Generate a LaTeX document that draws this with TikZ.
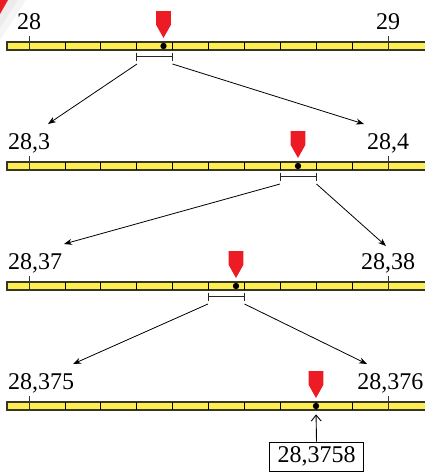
\documentclass[tikz,border=0pt]{standalone}
\usepackage{fontspec}
\setmainfont{Liberation Serif}
\usetikzlibrary{arrows.meta}
\definecolor{baryellow}{RGB}{255,238,80}
\definecolor{barline}{RGB}{55,55,40}
\definecolor{markred}{RGB}{237,28,36}
\tikzset{
  numbar/.style={fill=baryellow, draw=barline, line width=1.1pt},
  divider/.style={draw=black, line width=0.8pt},
  majortick/.style={draw=black!80, line width=0.8pt},
  marker/.style={fill=markred, draw=none},
  dotnode/.style={circle, fill=black, inner sep=0pt, minimum size=6.4pt},
  numlabel/.style={inner sep=0pt, font=\fontsize{24}{28}\selectfont},
  bracketline/.style={draw=black!85, line width=1.1pt},
  zoomarrow/.style={draw=black, line width=0.8pt, -{Stealth[length=8pt,width=6pt]}},
  resultbox/.style={draw=black, line width=0.9pt, inner sep=0pt, minimum width=94pt, minimum height=29pt, font=\fontsize{24}{28}\selectfont},
}
\begin{document}
\begin{tikzpicture}[x=1pt,y=-1pt]
\useasboundingbox (0,0) rectangle (425,472);
% corner decoration
\fill[gray!8] (0,0) -- (26,0) -- (0,40) -- cycle;
\fill[gray!15] (0,0) -- (18,0) -- (0,28) -- cycle;
\fill[markred] (0,0) -- (8,0) -- (0,14) -- cycle;

% bars
\foreach \yt in {42,162,282,402}{
  \path[numbar] (7,\yt) rectangle (426,\yt+8);
  \foreach \k in {1,...,9}{
    \draw[divider] ({29+\k*35.9},\yt) -- ({29+\k*35.9},\yt+8);
  }
  \draw[majortick] (29,\yt-6) -- (29,\yt+8);
  \draw[majortick] (388,\yt-6) -- (388,\yt+8);
}

% markers
\foreach \mx/\yt in {163.5/42,298/162,236/282,316/402}{
  \path[marker] (\mx-7.3,\yt-31) -- (\mx+7.3,\yt-31) -- (\mx+7.3,\yt-17) -- (\mx,\yt-4) -- (\mx-7.3,\yt-17) -- cycle;
}

% dots
\node[dotnode] (d1) at (163.5,46) {};
\node[dotnode] (d2) at (298,166) {};
\node[dotnode] (d3) at (236,286) {};
\node[dotnode] (d4) at (316,406) {};

% labels
\node[numlabel, anchor=base] (l1) at (29,29) {28};
\node[numlabel, anchor=base] (r1) at (388,29) {29};
\node[numlabel, anchor=base west] (l2) at (8,149) {28,3};
\node[numlabel, anchor=base] (r2) at (388,149) {28,4};
\node[numlabel, anchor=base west] (l3) at (8,269) {28,37};
\node[numlabel, anchor=base] (r3) at (388,269) {28,38};
\node[numlabel, anchor=base west] (l4) at (8,389) {28,375};
\node[numlabel, anchor=base east] (r4) at (423.5,389) {28,376};

% brackets
\foreach \a/\b/\yb in {136.7/172.6/50, 280.3/316.2/170, 208.5/244.4/290}{
  \draw[bracketline] (\a,\yb+6.5) -- (\b,\yb+6.5);
  \draw[bracketline] (\a,\yb+2.5) -- (\a,\yb+10.5);
  \draw[bracketline] (\b,\yb+2.5) -- (\b,\yb+10.5);
}

% arrow endpoints
\coordinate (s1l) at (137,64);
\coordinate (s1r) at (172.5,64);
\coordinate (e1l) at (48,124);
\coordinate (e1r) at (364,124);
\coordinate (s2l) at (280,184);
\coordinate (s2r) at (316.5,184);
\coordinate (e2l) at (64,244);
\coordinate (e2r) at (386,246);
\coordinate (s3l) at (208,304);
\coordinate (s3r) at (244.5,304);
\coordinate (e3l) at (73,364);
\coordinate (e3r) at (367,364);

\draw[zoomarrow] (s1l) -- (e1l);
\draw[zoomarrow] (s1r) -- (e1r);
\draw[zoomarrow] (s2l) -- (e2l);
\draw[zoomarrow] (s2r) -- (e2r);
\draw[zoomarrow] (s3l) -- (e3l);
\draw[zoomarrow] (s3r) -- (e3r);

% result
\node[resultbox] (res) at (316.5,456.5) {28,3758};
\draw[line width=0.9pt, -{Straight Barb[length=6pt,width=10pt]}, shorten >=5pt] (res.north) -- (d4.south);
\end{tikzpicture}
\end{document}
